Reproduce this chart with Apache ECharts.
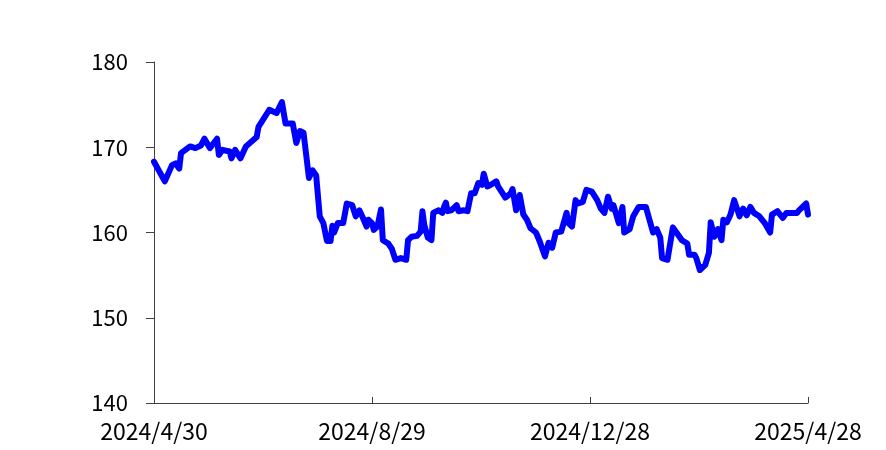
<!DOCTYPE html>
<html>
<head>
<meta charset="UTF-8">
<title>chart</title>
<script src="https://cdn.jsdelivr.net/npm/echarts@6/dist/echarts.min.js"></script>
<style>
  html, body { margin: 0; padding: 0; background: #fff; }
  #main { width: 886px; height: 450px; }
</style>
</head>
<body>
<div id="main"></div>
<script type="text/javascript">
// readings (date, value)
var pointDates = [
  '2024/4/30','2024/5/6','2024/5/10','2024/5/12','2024/5/14','2024/5/15','2024/5/20','2024/5/23','2024/5/26','2024/5/28',
  '2024/5/31','2024/6/4','2024/6/5','2024/6/7','2024/6/11','2024/6/12','2024/6/14','2024/6/17','2024/6/20','2024/6/26',
  '2024/6/27','2024/7/3','2024/7/7','2024/7/10','2024/7/12','2024/7/16','2024/7/18','2024/7/20','2024/7/22','2024/7/25',
  '2024/7/27','2024/7/29','2024/7/31','2024/8/2','2024/8/4','2024/8/6','2024/8/7','2024/8/8','2024/8/10','2024/8/13',
  '2024/8/15','2024/8/18','2024/8/20','2024/8/22','2024/8/24','2024/8/26','2024/8/27','2024/8/29','2024/8/30','2024/9/1',
  '2024/9/3','2024/9/4','2024/9/7','2024/9/9','2024/9/11','2024/9/14','2024/9/17','2024/9/18','2024/9/20','2024/9/23',
  '2024/9/25','2024/9/26','2024/9/27','2024/9/29','2024/10/1','2024/10/2','2024/10/5','2024/10/7','2024/10/8','2024/10/9',
  '2024/10/10','2024/10/12','2024/10/15','2024/10/16','2024/10/19','2024/10/21','2024/10/23','2024/10/25','2024/10/27','2024/10/29',
  '2024/10/30','2024/11/1','2024/11/3','2024/11/6','2024/11/7','2024/11/11','2024/11/14','2024/11/15','2024/11/17','2024/11/19',
  '2024/11/21','2024/11/23','2024/11/25','2024/11/28','2024/11/30','2024/12/3','2024/12/5','2024/12/7','2024/12/9','2024/12/12',
  '2024/12/15','2024/12/16','2024/12/18','2024/12/20','2024/12/21','2024/12/24','2024/12/26','2024/12/29','2025/1/1','2025/1/3',
  '2025/1/5','2025/1/7','2025/1/9','2025/1/10','2025/1/13','2025/1/15','2025/1/16','2025/1/19','2025/1/21','2025/1/24',
  '2025/1/28','2025/1/30','2025/2/1','2025/2/3','2025/2/5','2025/2/6','2025/2/9','2025/2/12','2025/2/14','2025/2/17',
  '2025/2/20','2025/2/21','2025/2/24','2025/2/25','2025/2/27','2025/3/2','2025/3/4','2025/3/5','2025/3/7','2025/3/9',
  '2025/3/11','2025/3/12','2025/3/14','2025/3/16','2025/3/18','2025/3/21','2025/3/23','2025/3/25','2025/3/27','2025/3/29',
  '2025/4/1','2025/4/4','2025/4/7','2025/4/8','2025/4/11','2025/4/12','2025/4/14','2025/4/16','2025/4/22','2025/4/23',
  '2025/4/27','2025/4/28'
];
var pointValues = [
  168.3,166.0,167.9,168.1,167.5,169.3,170.1,169.9,170.2,171.0,
  169.9,171.0,169.1,169.7,169.5,168.7,169.7,168.7,170.1,171.2,
  172.4,174.4,174.0,175.3,172.8,172.8,170.5,171.9,171.7,166.4,
  167.3,166.7,161.9,161.1,159.0,159.0,160.8,160.0,161.1,161.1,
  163.4,163.2,161.9,162.6,161.7,160.7,161.5,161.1,160.3,160.7,
  162.7,159.1,158.7,158.1,156.8,157.0,156.8,159.1,159.5,159.6,
  160.1,162.5,160.9,159.4,159.1,162.3,162.6,162.3,163.0,163.5,
  162.5,162.6,163.2,162.5,162.6,162.5,164.6,164.6,165.8,165.6,
  166.9,165.4,165.6,166.0,165.4,164.1,164.6,165.1,162.6,164.4,
  162.1,161.5,160.5,160.0,159.0,157.2,158.8,158.2,160.0,160.1,
  162.3,161.1,160.7,163.8,163.4,163.6,165.0,164.8,163.8,162.8,
  162.3,164.2,162.8,163.2,161.1,163.0,160.0,160.4,161.9,163.0,
  163.0,161.5,160.0,160.4,159.4,157.0,156.8,160.6,160.0,159.1,
  158.7,157.4,157.4,157.0,155.6,156.2,157.6,161.2,159.5,160.4,
  159.1,161.5,161.2,162.1,163.8,161.9,162.8,162.0,163.0,162.3,
  161.9,161.1,160.0,162.1,162.5,162.6,161.7,162.3,162.3,162.6,
  163.4,162.1
];
var firstDay = '2024/4/30';
var dayCount = 364;
var yTicks = [140, 150, 160, 170, 180];

// every calendar day on the axis
var categories = [];
var p = firstDay.split('/');
for (var i = 0; i < dayCount; i++) {
  var d = new Date(Date.UTC(+p[0], +p[1] - 1, +p[2] + i));
  categories.push(d.getUTCFullYear() + '/' + (d.getUTCMonth() + 1) + '/' + d.getUTCDate());
}

var seriesData = [];
for (var j = 0; j < pointDates.length; j++) {
  seriesData.push([pointDates[j], pointValues[j]]);
}

var font = '"Noto Sans CJK JP", "Noto Sans", sans-serif';
var myChart = echarts.init(document.getElementById('main'));
var option = {
  animation: false,
  backgroundColor: '#ffffff',
  grid: { left: 154, right: 78, top: 62, bottom: 47, containLabel: false },
  xAxis: {
    type: 'category',
    boundaryGap: false,
    data: categories,
    axisLine: { lineStyle: { color: '#404040', width: 1 } },
    axisTick: { show: true, inside: true, length: 6, interval: 120, lineStyle: { color: '#404040' } },
    axisLabel: { interval: 120, color: '#000', fontSize: 23, fontFamily: font, margin: 17 },
    splitLine: { show: false }
  },
  yAxis: {
    type: 'value',
    min: yTicks[0],
    max: yTicks[yTicks.length - 1],
    interval: 10,
    axisLine: { show: true, lineStyle: { color: '#404040', width: 1 } },
    axisTick: { show: true, length: 8, lineStyle: { color: '#404040' } },
    axisLabel: { color: '#000', fontSize: 22, fontFamily: font, margin: 26 },
    splitLine: { show: false }
  },
  series: [{
    type: 'line',
    data: seriesData,
    symbol: 'none',
    smooth: false,
    lineStyle: { color: '#0000ff', width: 6, join: 'round', cap: 'round' },
    itemStyle: { color: '#0000ff' }
  }]
};
myChart.setOption(option);
window.onresize = myChart.resize;
</script>
</body>
</html>
